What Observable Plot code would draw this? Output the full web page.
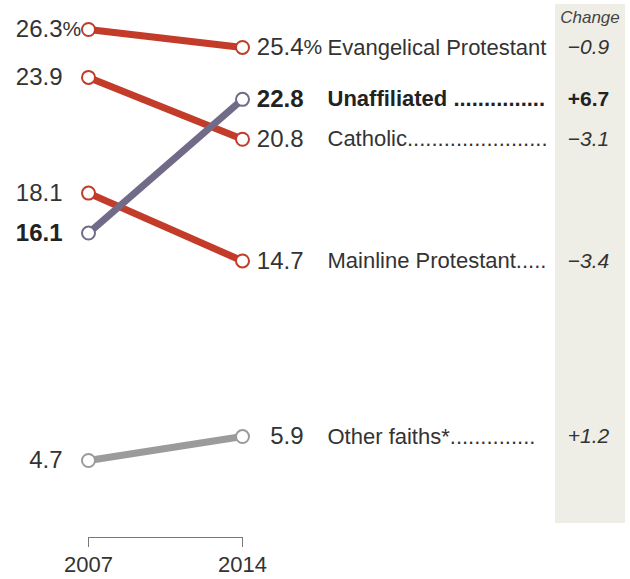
<!DOCTYPE html>
<html>
<head>
<meta charset="utf-8">
<script src="https://cdn.jsdelivr.net/npm/d3@7"></script>
<script src="https://cdn.jsdelivr.net/npm/@observablehq/plot@0.6"></script>
<style>
  html, body { margin: 0; padding: 0; background: #fff; }
  #wrap { position: relative; width: 630px; height: 579px; font-family: "Liberation Sans", Arial, sans-serif; }
  #panel { position: absolute; left: 555px; top: 4px; width: 70px; height: 519px; background: #efeee6; }
  #head { position: absolute; left: 555px; top: 8px; width: 70px; text-align: center; font-style: italic; font-size: 17px; color: #444; }
  #chart { position: absolute; left: 0; top: 0; }
  #chart svg { background: transparent !important; }
</style>
</head>
<body>
<div id="wrap">
  <div id="panel"></div>
  <div id="head">Change</div>
  <div id="chart"></div>
</div>
<script>
// Data
const years = [2007, 2014];
const categories = ["Evangelical Protestant", "Unaffiliated", "Catholic", "Mainline Protestant", "Other faiths*"];
const labels = ["Evangelical Protestant", "Unaffiliated ...............", "Catholic.......................", "Mainline Protestant.....", "Other faiths*.............."];
const share2007 = [26.3, 16.1, 23.9, 18.1, 4.7];
const share2014 = [25.4, 22.8, 20.8, 14.7, 5.9];
const highlight = "Unaffiliated";

const palette = ["#c33b29", "#726b87", "#c33b29", "#c33b29", "#9b9b9b"];

const rows = categories.map((c, i) => ({
  cat: c, label: labels[i], a: share2007[i], b: share2014[i],
  change: Math.round((share2014[i] - share2007[i]) * 10) / 10
}));
const long = rows.flatMap(r => [{cat: r.cat, year: years[0], v: r.a}, {cat: r.cat, year: years[1], v: r.b}]);
// draw highlighted series last so it sits on top
const order = d => d.cat === highlight ? 1 : 0;
const longSorted = long.slice().sort((p, q) => order(p) - order(q));

const fmtChange = v => (v > 0 ? "+" : "\u2212") + Math.abs(v).toFixed(1);
const isHi = d => d.cat === highlight;
const notHi = d => d.cat !== highlight;
const font = "Liberation Sans, Arial, sans-serif";
const txt = "#333";
const numSize = 24;
const pctSize = 21;
const labSize = 22;
const chgSize = 21;

const chart = Plot.plot({
  width: 630,
  height: 579,
  marginLeft: 88,
  marginRight: 388,
  marginTop: 29,
  marginBottom: 42,
  style: {fontFamily: font, fontSize: "22px", color: txt, background: "transparent", overflow: "visible"},
  x: {type: "linear", domain: years},
  y: {domain: [4.7, 26.3], range: [460, 29], axis: null},
  color: {domain: categories, range: palette},
  marks: [
    Plot.frame({anchor: "bottom", stroke: "#777", strokeWidth: 1}),
    Plot.axisX({ticks: years, tickFormat: "d", tickSize: 10, tickPadding: 9, stroke: "#777", fontSize: 22, fill: txt, label: null}),
    Plot.line(longSorted, {x: "year", y: "v", z: "cat", stroke: "cat", strokeWidth: 7, strokeLinecap: "butt"}),
    Plot.dot(longSorted, {x: "year", y: "v", stroke: "cat", fill: "white", r: 6.5, strokeWidth: 2}),
    // 2007 values
    Plot.text(rows.filter(notHi), {x: () => years[0], y: "a", text: d => d.a.toFixed(1), textAnchor: "end", dx: -26, fill: txt, fontSize: numSize}),
    Plot.text(rows.filter(isHi), {x: () => years[0], y: "a", text: d => d.a.toFixed(1), textAnchor: "end", dx: -26, fill: "#222", fontWeight: "bold", fontSize: numSize}),
    Plot.text(rows.slice(0, 1), {x: () => years[0], y: "a", text: () => "%", textAnchor: "start", dx: -26, fill: txt, fontSize: pctSize}),
    // 2014 values
    Plot.text(rows.filter(notHi), {x: () => years[1], y: "b", text: d => d.b.toFixed(1), textAnchor: "end", dx: 61, fill: txt, fontSize: numSize}),
    Plot.text(rows.filter(isHi), {x: () => years[1], y: "b", text: d => d.b.toFixed(1), textAnchor: "end", dx: 61, fill: "#222", fontWeight: "bold", fontSize: numSize}),
    Plot.text(rows.slice(0, 1), {x: () => years[1], y: "b", text: () => "%", textAnchor: "start", dx: 61, fill: txt, fontSize: pctSize}),
    // category labels
    Plot.text(rows.filter(notHi), {x: () => years[1], y: "b", text: "label", textAnchor: "start", dx: 85, fill: txt, fontSize: labSize}),
    Plot.text(rows.filter(isHi), {x: () => years[1], y: "b", text: "label", textAnchor: "start", dx: 85, fill: "#222", fontWeight: "bold", fontSize: labSize}),
    // change column
    Plot.text(rows.filter(notHi), {x: () => years[1], y: "b", text: d => fmtChange(d.change), textAnchor: "middle", dx: 346, fill: txt, fontStyle: "italic", fontSize: chgSize}),
    Plot.text(rows.filter(isHi), {x: () => years[1], y: "b", text: d => fmtChange(d.change), textAnchor: "middle", dx: 346, fill: "#222", fontWeight: "bold", fontSize: chgSize})
  ]
});
document.getElementById("chart").appendChild(chart);
</script>
</body>
</html>
